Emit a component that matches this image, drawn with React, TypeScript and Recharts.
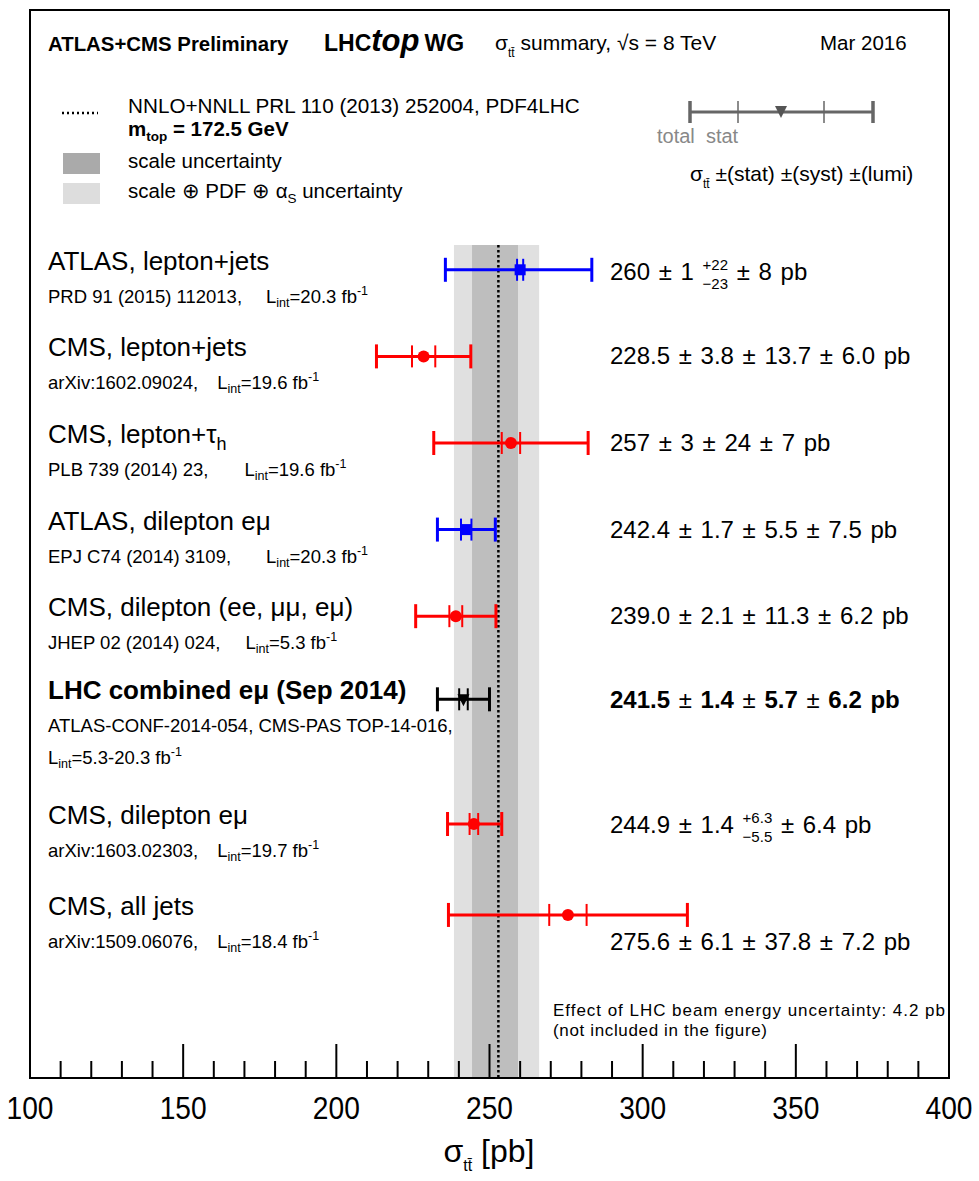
import React from "react";
import { ScatterChart, Scatter, XAxis, YAxis, ErrorBar, ReferenceArea, ReferenceLine } from "recharts";

const FONT = "'Liberation Sans', Arial, Helvetica, sans-serif";

// one entry per measurement, top to bottom
const LABELS = [
  "ATLAS, lepton+jets",
  "CMS, lepton+jets",
  "CMS, lepton+τ",
  "ATLAS, dilepton eμ",
  "CMS, dilepton (ee, μμ, eμ)",
  "LHC combined eμ (Sep 2014)",
  "CMS, dilepton eμ",
  "CMS, all jets",
];
const LABEL_SUB = ["", "", "h", "", "", "", "", ""];
const REFS = [
  "PRD 91 (2015) 112013,",
  "arXiv:1602.09024,",
  "PLB 739 (2014) 23,",
  "EPJ C74 (2014) 3109,",
  "JHEP 02 (2014) 024,",
  "ATLAS-CONF-2014-054, CMS-PAS TOP-14-016,",
  "arXiv:1603.02303,",
  "arXiv:1509.06076,",
];
const LUMIS = ["20.3", "19.6", "19.6", "20.3", "5.3", "5.3-20.3", "19.7", "18.4"];
const EXPERIMENT = ["ATLAS", "CMS", "CMS", "ATLAS", "CMS", "LHC", "CMS", "CMS"];

// row slot on the vertical axis (category position)
const ROW_SLOT = [3, 4, 5, 6, 7, 7.96, 9.4, 10.45];

// sigma_tt [pb]
const CENTRAL = [260, 228.5, 257, 242.4, 239.0, 241.5, 244.9, 275.6];
const STAT_LO = [259, 224.7, 254, 240.7, 236.9, 240.1, 243.5, 269.5];
const STAT_HI = [261, 232.3, 260, 244.1, 241.1, 242.9, 246.3, 281.7];
const TOTAL_LO = [235.6, 213.1, 231.8, 233.0, 225.9, 233.0, 236.3, 236.6];
const TOTAL_HI = [283.4, 243.9, 282.2, 251.9, 252.1, 250.0, 254.0, 314.6];

// printed numbers
const VAL_TXT = ["260", "228.5", "257", "242.4", "239.0", "241.5", "244.9", "275.6"];
const STAT_TXT = ["1", "3.8", "3", "1.7", "2.1", "1.4", "1.4", "6.1"];
const SYST_UP_TXT = ["22", "13.7", "24", "5.5", "11.3", "5.7", "6.3", "37.8"];
const SYST_DN_TXT = ["23", "", "", "", "", "", "5.5", ""];
const LUMI_TXT = ["8", "6.0", "7", "7.5", "6.2", "6.2", "6.4", "7.2"];

// NNLO+NNLL prediction
const THEORY = 252.9;
const SCALE_BAND = [244.3, 259.3];
const TOTAL_BAND = [238.4, 266.2];

const X_TICKS = [
  100, 110, 120, 130, 140, 150, 160, 170, 180, 190, 200, 210, 220, 230, 240, 250,
  260, 270, 280, 290, 300, 310, 320, 330, 340, 350, 360, 370, 380, 390, 400,
];

const W = 979;
const H = 1181;
const PLOT_TOP = 10;
const PLOT_H = 1068;
const Y_MAX = 12.333;
const BAND_TOP = 2.714;

const STYLE: Record<string, { color: string; marker: string }> = {
  ATLAS: { color: "#0000ff", marker: "square" },
  CMS: { color: "#ff0000", marker: "circle" },
  LHC: { color: "#000000", marker: "triangle" },
};

const REF_GAP = [24, 19, 36, 35, 25, 0, 19, 19];
const VALUE_DY = [10, 8, 8, 8, 8, 9, 9, 35];

const rowY = (slot: number) => PLOT_TOP + (slot * PLOT_H) / Y_MAX;

const charW = (s: string, size: number) =>
  s.split("").reduce((a, c) => a + (c === "." ? 0.278 : c === "+" || c === "−" ? 0.584 : 0.556), 0) * size;

function AxisTick(props: any) {
  const { x, y, payload } = props;
  const major = payload.value % 50 === 0;
  const edge = payload.value === 100 || payload.value === 400;
  return (
    <g>
      {!edge && <line x1={x} x2={x} y1={y} y2={y - (major ? 34 : 17)} stroke="#000" strokeWidth={2} />}
      {major && (
        <text
          x={x}
          y={y + 41}
          textAnchor="middle"
          fontSize={32}
          fontFamily={FONT}
          fill="#000"
          textLength={47}
          lengthAdjust="spacingAndGlyphs"
        >
          {payload.value}
        </text>
      )}
    </g>
  );
}

function Marker(props: any) {
  const { cx, cy, kind, color } = props;
  if (kind === "square") return <rect x={cx - 5.5} y={cy - 5.5} width={11} height={11} fill={color} />;
  if (kind === "triangle")
    return <polygon points={`${cx - 6},${cy - 5} ${cx + 6},${cy - 5} ${cx},${cy + 7}`} fill={color} />;
  return <circle cx={cx} cy={cy} r={6} fill={color} />;
}

function ValueText({ i }: { i: number }) {
  const y = rowY(ROW_SLOT[i]) + VALUE_DY[i];
  const bold = i === 5;
  const fw = bold ? "bold" : "normal";
  const pm = <tspan fontWeight="normal">{" ± "}</tspan>;
  const style = { whiteSpace: "pre" as const, wordSpacing: "2px" };
  if (SYST_DN_TXT[i]) {
    const up = "+" + SYST_UP_TXT[i];
    const dn = "−" + SYST_DN_TXT[i];
    return (
      <text x={610} y={y} fontSize={24} fontFamily={FONT} fontWeight={fw} style={style}>
        {VAL_TXT[i]}
        {pm}
        {STAT_TXT[i] + " "}
        <tspan fontSize={15} dy={-10}>{up}</tspan>
        <tspan fontSize={15} dx={-charW(up, 15)} dy={19}>{dn}</tspan>
        <tspan dy={-9}>{" ± " + LUMI_TXT[i] + " pb"}</tspan>
      </text>
    );
  }
  return (
    <text x={610} y={y} fontSize={24} fontFamily={FONT} fontWeight={fw} style={style}>
      {VAL_TXT[i]}
      {pm}
      {STAT_TXT[i]}
      {pm}
      {SYST_UP_TXT[i]}
      {pm}
      {LUMI_TXT[i] + " pb"}
    </text>
  );
}

function Lumi({ i, gap }: { i: number; gap: number }) {
  return (
    <>
      <tspan dx={gap}>L</tspan>
      <tspan fontSize={12.5} dy={4}>int</tspan>
      <tspan dy={-4}>{"=" + LUMIS[i] + " fb"}</tspan>
      <tspan fontSize={12.5} dy={-8}>-1</tspan>
    </>
  );
}

function RowLabel({ i }: { i: number }) {
  const y = rowY(ROW_SLOT[i]);
  const bold = i === 5;
  return (
    <g>
      <text x={48} y={y} fontSize={26} fontFamily={FONT} fontWeight={bold ? "bold" : "normal"}>
        {LABELS[i]}
        {LABEL_SUB[i] && (
          <tspan fontSize={18} dy={7}>
            {LABEL_SUB[i]}
          </tspan>
        )}
      </text>
      {i === 5 ? (
        <>
          <text x={48} y={y + 33} fontSize={18.5} fontFamily={FONT}>
            {REFS[i]}
          </text>
          <text x={48} y={y + 65} fontSize={18.5} fontFamily={FONT}>
            <Lumi i={i} gap={0} />
          </text>
        </>
      ) : (
        <text x={48} y={y + 33} fontSize={18.5} fontFamily={FONT}>
          {REFS[i]}
          <Lumi i={i} gap={REF_GAP[i]} />
        </text>
      )}
    </g>
  );
}

function Overlay() {
  return (
    <svg width={W} height={H} style={{ position: "absolute", left: 0, top: 0, pointerEvents: "none" }}>
      {/* header */}
      <text x={48} y={51} fontSize={20.4} fontWeight="bold" fontFamily={FONT}>
        ATLAS+CMS Preliminary
      </text>
      <text x={324} y={51} fontSize={23} fontWeight="bold" fontFamily={FONT}>
        LHC
        <tspan fontSize={31} fontStyle="italic">top</tspan>
        <tspan dx={5}>WG</tspan>
      </text>
      <text x={495} y={50} fontSize={21} fontFamily={FONT} style={{ whiteSpace: "pre" }}>
        σ
        <tspan fontSize={12} dy={7}>{"tt\u0304"}</tspan>
        <tspan dy={-7}>{" summary, √s = 8 TeV"}</tspan>
      </text>
      <text x={820} y={50} fontSize={20.5} fontFamily={FONT}>
        Mar 2016
      </text>

      {/* legend */}
      <line x1={62} x2={98} y1={113} y2={113} stroke="#000" strokeWidth={2.5} strokeDasharray="2 3" />
      <text x={128} y={113} fontSize={20.7} fontFamily={FONT}>
        NNLO+NNLL PRL 110 (2013) 252004, PDF4LHC
      </text>
      <text x={128} y={136} fontSize={20.5} fontWeight="bold" fontFamily={FONT}>
        m<tspan fontSize={13.5} dy={5}>top</tspan>
        <tspan dy={-5}>{" = 172.5 GeV"}</tspan>
      </text>
      <rect x={63} y={153} width={37} height={21} fill="#aaaaaa" />
      <text x={128} y={168} fontSize={20.5} fontFamily={FONT}>
        scale uncertainty
      </text>
      <rect x={63} y={183} width={37} height={21} fill="#dddddd" />
      <text x={128} y={198} fontSize={20.5} fontFamily={FONT} style={{ whiteSpace: "pre" }}>
        {"scale ⊕ PDF ⊕ α"}
        <tspan fontSize={13.5} dy={5}>S</tspan>
        <tspan dy={-5}>{" uncertainty"}</tspan>
      </text>

      {/* legend error bar key */}
      <g stroke="#666" fill="none">
        <line x1={690} x2={873} y1={112} y2={112} strokeWidth={3} />
        <line x1={690} x2={690} y1={101} y2={123} strokeWidth={3.5} />
        <line x1={873} x2={873} y1={101} y2={123} strokeWidth={3.5} />
        <line x1={738} x2={738} y1={101} y2={123} strokeWidth={1.5} />
        <line x1={824} x2={824} y1={101} y2={123} strokeWidth={1.5} />
      </g>
      <polygon points="775,106 787,106 781,118" fill="#555" />
      <text x={657} y={143} fontSize={20} fontFamily={FONT} fill="#888" style={{ whiteSpace: "pre" }}>
        {"total  stat"}
      </text>
      <text x={690} y={181} fontSize={21} fontFamily={FONT} style={{ whiteSpace: "pre" }}>
        σ
        <tspan fontSize={12} dy={7}>{"tt\u0304"}</tspan>
        <tspan dy={-7}>{" ±(stat) ±(syst) ±(lumi)"}</tspan>
      </text>

      {LABELS.map((_, i) => (
        <RowLabel key={"l" + i} i={i} />
      ))}
      {LABELS.map((_, i) => (
        <ValueText key={"v" + i} i={i} />
      ))}

      <text x={553} y={1016} fontSize={17} fontFamily={FONT} textLength={392} lengthAdjust="spacing">
        Effect of LHC beam energy uncertainty: 4.2 pb
      </text>
      <text x={553} y={1036} fontSize={17} fontFamily={FONT} textLength={214} lengthAdjust="spacing">
        (not included in the figure)
      </text>

      {/* axis title */}
      <text x={489} y={1162} fontSize={32} fontFamily={FONT} textAnchor="middle" style={{ whiteSpace: "pre" }}>
        σ
        <tspan fontSize={16} dy={9}>{"tt\u0304"}</tspan>
        <tspan dy={-9}>{" [pb]"}</tspan>
      </text>
    </svg>
  );
}

export default function App() {
  const rows = CENTRAL.map((c, i) => ({
    x: c,
    y: ROW_SLOT[i],
    stat: [c - STAT_LO[i], STAT_HI[i] - c],
    tot: [c - TOTAL_LO[i], TOTAL_HI[i] - c],
  }));

  return (
    <div style={{ position: "absolute", left: 0, top: 0, width: W, height: H, background: "#fff" }}>
      <ScatterChart width={W} height={H} margin={{ top: 10, right: 30, bottom: 43, left: 30 }}>
        <XAxis
          type="number"
          dataKey="x"
          domain={[100, 400]}
          ticks={X_TICKS}
          interval={0}
          height={60}
          axisLine={false}
          tickLine={false}
          tickSize={0}
          tickMargin={0}
          tick={<AxisTick />}
          allowDataOverflow
        />
        <YAxis type="number" dataKey="y" domain={[0, Y_MAX]} reversed hide allowDataOverflow />
        <ReferenceArea
          x1={TOTAL_BAND[0]}
          x2={TOTAL_BAND[1]}
          y1={BAND_TOP}
          y2={Y_MAX}
          fill="#e0e0e0"
          fillOpacity={1}
          stroke="none"
        />
        <ReferenceArea
          x1={SCALE_BAND[0]}
          x2={SCALE_BAND[1]}
          y1={BAND_TOP}
          y2={Y_MAX}
          fill="#bebebe"
          fillOpacity={1}
          stroke="none"
        />
        <ReferenceLine
          segment={[
            { x: THEORY, y: BAND_TOP },
            { x: THEORY, y: Y_MAX },
          ]}
          stroke="#000"
          strokeWidth={2.5}
          strokeDasharray="2.5 2.5"
        />
        {rows.map((r, i) => {
          const st = STYLE[EXPERIMENT[i]];
          return (
            <Scatter
              key={i}
              data={[r]}
              isAnimationActive={false}
              shape={(p: any) => <Marker {...p} kind={st.marker} color={st.color} />}
            >
              <ErrorBar dataKey="tot" direction="x" width={12} stroke={st.color} strokeWidth={3} isAnimationActive={false} />
              <ErrorBar dataKey="stat" direction="x" width={11} stroke={st.color} strokeWidth={2} isAnimationActive={false} />
            </Scatter>
          );
        })}
        <ReferenceArea x1={100} x2={400} y1={0} y2={Y_MAX} fill="none" stroke="#000" strokeWidth={2} />
      </ScatterChart>
      <Overlay />
    </div>
  );
}
